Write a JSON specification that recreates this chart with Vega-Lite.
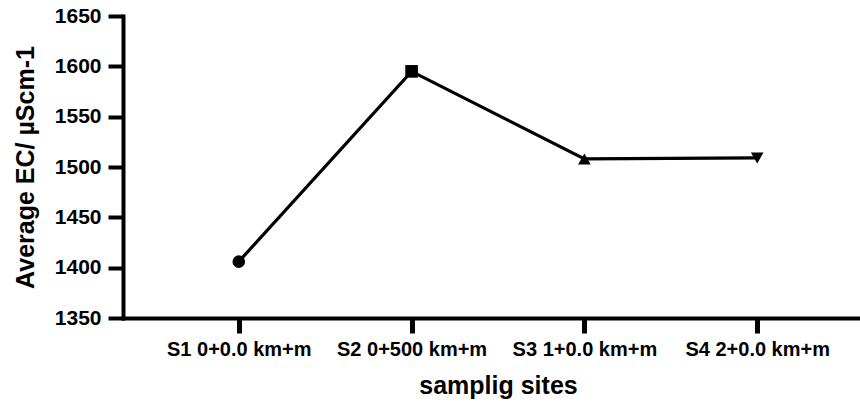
{
  "$schema": "https://vega.github.io/schema/vega-lite/v6.json",
  "autosize": {"type": "none"},
  "padding": {"left": 123, "top": 16, "right": 0, "bottom": 84},
  "width": 750,
  "height": 302,
  "background": "white",
  "config": {
    "view": {"stroke": null},
    "font": "Liberation Sans"
  },
  "data": {
    "values": [
      {"site": "S1 0+0.0 km+m", "ec": 1406, "marker": "circle"},
      {"site": "S2 0+500 km+m", "ec": 1595, "marker": "square"},
      {"site": "S3 1+0.0 km+m", "ec": 1508, "marker": "triangle-up"},
      {"site": "S4 2+0.0 km+m", "ec": 1509, "marker": "triangle-down"}
    ]
  },
  "encoding": {
    "x": {
      "field": "site",
      "type": "ordinal",
      "sort": null,
      "scale": {"type": "point", "padding": 0.67},
      "axis": {
        "title": "samplig sites",
        "labelAngle": 0,
        "labelPadding": 6,
        "titlePadding": 14,
        "grid": false,
        "domainColor": "black",
        "domainWidth": 4,
        "domainCap": "square",
        "tickColor": "black",
        "tickWidth": 5,
        "tickSize": 15,
        "labelFont": "Liberation Sans",
        "labelFontWeight": "bold",
        "labelColor": "black",
        "labelFontSize": 20,
        "titleFont": "Liberation Sans",
        "titleFontWeight": "bold",
        "titleColor": "black",
        "titleFontSize": 25
      }
    },
    "y": {
      "field": "ec",
      "type": "quantitative",
      "scale": {"domain": [1350, 1650], "nice": false, "zero": false},
      "axis": {
        "title": "Average EC/ µScm-1",
        "values": [1350, 1400, 1450, 1500, 1550, 1600, 1650],
        "format": "d",
        "labelPadding": 7,
        "titlePadding": 16,
        "grid": false,
        "domainColor": "black",
        "domainWidth": 4,
        "domainCap": "square",
        "tickColor": "black",
        "tickWidth": 4,
        "tickSize": 15,
        "labelFont": "Liberation Sans",
        "labelFontWeight": "bold",
        "labelColor": "black",
        "labelFontSize": 21,
        "titleFont": "Liberation Sans",
        "titleFontWeight": "bold",
        "titleColor": "black",
        "titleFontSize": 25
      }
    }
  },
  "layer": [
    {"mark": {"type": "line", "color": "black", "strokeWidth": 3.2}},
    {
      "mark": {"type": "point", "filled": true, "color": "black", "opacity": 1},
      "encoding": {
        "shape": {
          "field": "marker",
          "type": "nominal",
          "scale": {
            "domain": ["circle", "square", "triangle-up", "triangle-down"],
            "range": ["circle", "square", "triangle-up", "triangle-down"]
          },
          "legend": null
        },
        "size": {"value": 160}
      }
    }
  ]
}
